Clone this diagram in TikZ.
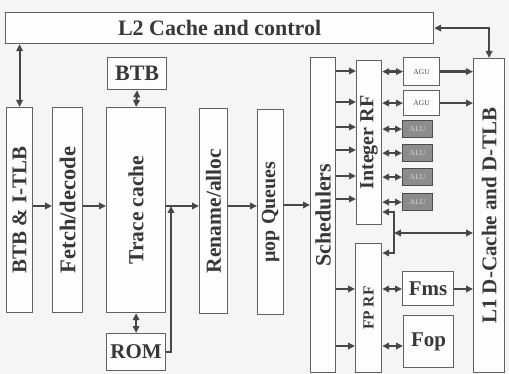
\documentclass[tikz,border=0pt]{standalone}
\usepackage{fontspec}
\setmainfont{Liberation Serif}
\usetikzlibrary{arrows.meta}
\begin{document}
\begin{tikzpicture}[x=1pt,y=-1pt,
  box/.style={draw=black!62, line width=1.2pt, anchor=north west, inner sep=0pt, fill=white!70!black!3},
  lbl/.style={text=black!78, font=\bfseries\fontsize{21}{24}\selectfont, inner sep=0pt},
  vlbl/.style={lbl, rotate=90},
  agubox/.style={box},
  alubox/.style={box, fill=black!45, draw=black!70},
  smalllbl/.style={text=black!70, font=\fontsize{7.5}{9}\selectfont, inner sep=0pt},
  alulbl/.style={text=white!85!black, font=\fontsize{7.5}{9}\selectfont, inner sep=0pt},
  arr/.style={draw=black!72, line width=2.2pt, -{Triangle[length=7pt,width=6.5pt]}},
  darr/.style={draw=black!72, line width=2.2pt, {Triangle[length=7pt,width=6.5pt]}-{Triangle[length=7pt,width=6.5pt]}},
  bus/.style={draw=black!72, line width=2.2pt}]
\fill[black!4] (0,0) rectangle (509,374);
\useasboundingbox (0,0) rectangle (509,374);

% boxes
\node[box, minimum width=428pt, minimum height=31pt] (l2) at (5,12) {};
\node[lbl, font=\bfseries\fontsize{22}{24}\selectfont] (l2t) at (l2) {L2 Cache and control};

\node[box, minimum width=59pt, minimum height=32pt] (btb) at (107,57) {};
\node[lbl, font=\bfseries\fontsize{22}{24}\selectfont] (btbt) at (btb) {BTB};

\node[box, minimum width=26pt, minimum height=205pt] (itlb) at (6,107) {};
\node[vlbl] (itlbt) at (itlb) {BTB \& I-TLB};

\node[box, minimum width=30pt, minimum height=205pt] (fetch) at (52,107) {};
\node[vlbl, font=\bfseries\fontsize{22.5}{24}\selectfont] (fetcht) at (fetch) {Fetch/decode};

\node[box, minimum width=59pt, minimum height=205pt] (trace) at (106,107) {};
\node[vlbl, font=\bfseries\fontsize{21.5}{24}\selectfont] (tracet) at (trace) {Trace cache};

\node[box, minimum width=59pt, minimum height=37pt] (rom) at (106,333) {};
\node[lbl] (romt) at (rom) {ROM};

\node[box, minimum width=28pt, minimum height=205pt] (rename) at (199,108) {};
\node[vlbl, font=\bfseries\fontsize{21.5}{24}\selectfont] (renamet) at (rename) {Rename/alloc};

\node[box, minimum width=26pt, minimum height=205pt] (uop) at (257,109) {};
\node[vlbl, font=\bfseries\fontsize{20}{24}\selectfont] (uopt) at (uop) {µop Queues};

\node[box, minimum width=25pt, minimum height=315pt] (sched) at (310,57) {};
\node[vlbl, font=\bfseries\fontsize{22}{24}\selectfont] (schedt) at (sched) {Schedulers};

\node[box, minimum width=25pt, minimum height=164pt] (intrf) at (356,60) {};
\node[vlbl, font=\bfseries\fontsize{20}{24}\selectfont] (intrft) at (intrf) {Integer RF};

\node[agubox, minimum width=36pt, minimum height=28pt] (agu1) at (403,57) {};
\node[smalllbl] (agu1t) at (agu1) {AGU};
\node[agubox, minimum width=36pt, minimum height=25pt] (agu2) at (403,90) {};
\node[smalllbl] (agu2t) at (agu2) {AGU};

\node[alubox, minimum width=30pt, minimum height=17pt] (alu1) at (402,120) {};
\node[alulbl] (alu1t) at (alu1) {ALU};
\node[alubox, minimum width=30pt, minimum height=17pt] (alu2) at (402,144) {};
\node[alulbl] (alu2t) at (alu2) {ALU};
\node[alubox, minimum width=30pt, minimum height=17pt] (alu3) at (402,168) {};
\node[alulbl] (alu3t) at (alu3) {ALU};
\node[alubox, minimum width=30pt, minimum height=17pt] (alu4) at (402,193) {};
\node[alulbl] (alu4t) at (alu4) {ALU};

\node[box, minimum width=26pt, minimum height=129pt] (fprf) at (355,243) {};
\node[vlbl, font=\bfseries\fontsize{15.5}{19}\selectfont] (fprft) at (fprf) {FP RF};

\node[box, minimum width=51pt, minimum height=34pt] (fms) at (402,271) {};
\node[lbl] (fmst) at (fms) {Fms};
\node[box, minimum width=50pt, minimum height=52pt] (fop) at (403,315) {};
\node[lbl] (fopt) at (fop) {Fop};

\node[box, minimum width=31pt, minimum height=314pt] (l1) at (473,58) {};
\node[vlbl] (l1t) at (l1) {L1 D-Cache and D-TLB};

% helper coordinates
\coordinate (main) at (0,206);
\coordinate (merge) at (171,206);
\coordinate (bt) at (394,212);
\coordinate (bb) at (394,253);
\coordinate (bm) at (394,233);
\coordinate (fa) at (0,289);
\coordinate (fb) at (0,346);

% connectors
\draw[darr] (itlb.north) -- (itlb.north |- l2.south);
\draw[darr] (l2.east) -| (l1.north);
\draw[darr] (btb.south) -- (trace.north);
\draw[darr] (trace.south) -- (rom.north);

\draw[arr] (itlb.east |- main) -- (fetch.west |- main);
\draw[arr] (fetch.east |- main) -- (trace.west |- main);
\draw[arr] (trace.east |- main) -- (rename.west |- main);
\draw[arr] (rom.east) -| (merge);
\draw[arr] (rename.east |- main) -- (uop.west |- main);
\draw[arr] (uop.east |- 0,205) -- (sched.west |- 0,205);

\foreach \yy in {71,102,127,150,176,199}
  \draw[arr] (sched.east |- 0,\yy) -- (intrf.west |- 0,\yy);

\draw[darr] (intrf.east |- agu1) -- (agu1.west);
\draw[darr] (intrf.east |- agu2) -- (agu2.west);
\draw[darr] (intrf.east |- alu1) -- (alu1.west);
\draw[darr] (intrf.east |- alu2) -- (alu2.west);
\draw[darr] (intrf.east |- alu3) -- (alu3.west);
\draw[darr] (intrf.east |- alu4) -- (alu4.west);
\draw[arr] (agu1.east) -- (l1.west |- agu1);
\draw[arr] (agu2.east) -- (l1.west |- agu2);

\draw[bus] ([yshift=1.1pt]bt) -- ([yshift=-1.1pt]bb);
\draw[arr] (bt) -- (intrf.east |- bt);
\draw[arr] (bb) -- (fprf.east |- bb);
\draw[darr] (bm) -- (l1.west |- bm);

\draw[arr] (sched.east |- fa) -- (fprf.west |- fa);
\draw[arr] (sched.east |- fb) -- (fprf.west |- fb);
\draw[darr] (fprf.east |- fa) -- (fms.west |- fa);
\draw[darr] (fprf.east |- fb) -- (fop.west |- fb);
\draw[arr] (fms.east |- fa) -- (l1.west |- fa);
\end{tikzpicture}
\end{document}
